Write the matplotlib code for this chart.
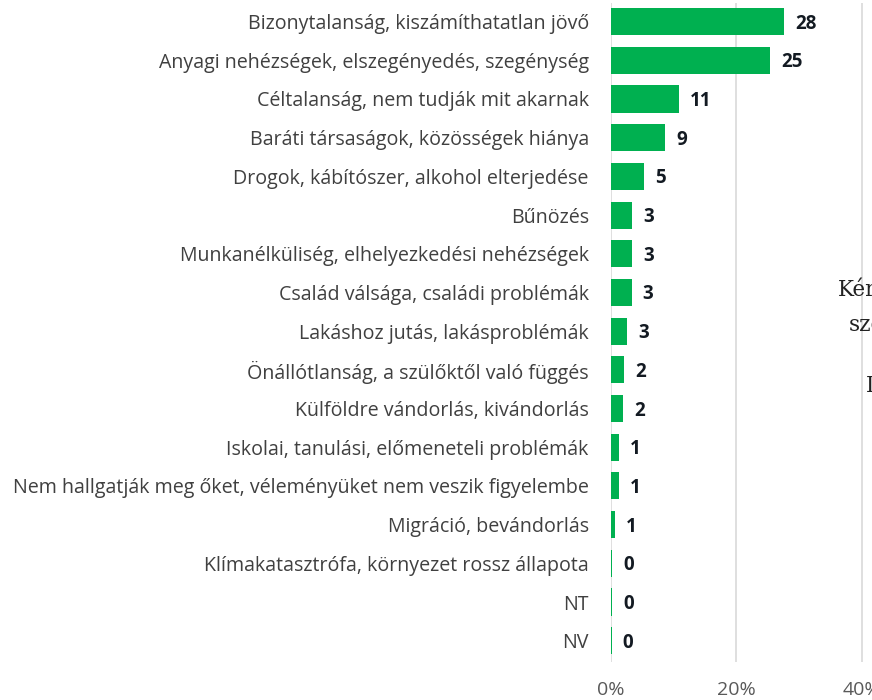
import matplotlib
matplotlib.use('Agg')
import matplotlib.pyplot as plt

categories = [
    'Bizonytalanság, kiszámíthatatlan jövő',
    'Anyagi nehézségek, elszegényedés, szegénység',
    'Céltalanság, nem tudják mit akarnak',
    'Baráti társaságok, közösségek hiánya',
    'Drogok, kábítószer, alkohol elterjedése',
    'Bűnözés',
    'Munkanélküliség, elhelyezkedési nehézségek',
    'Család válsága, családi problémák',
    'Lakáshoz jutás, lakásproblémák',
    'Önállótlanság, a szülőktől való függés',
    'Külföldre vándorlás, kivándorlás',
    'Iskolai, tanulási, előmeneteli problémák',
    'Nem hallgatják meg őket, véleményüket nem veszik figyelembe',
    'Migráció, bevándorlás',
    'Klímakatasztrófa, környezet rossz állapota',
    'NT',
    'NV',
]
# bar lengths in percent
values = [27.6, 25.4, 10.8, 8.6, 5.3, 3.4, 3.4, 3.3, 2.6, 2.1, 1.9, 1.3, 1.3, 0.6, 0.2, 0.2, 0.1]
# printed labels
labels = [28, 25, 11, 9, 5, 3, 3, 3, 3, 2, 2, 1, 1, 1, 0, 0, 0]
xticks = [0, 20, 40]

green = '#00b050'
grid_col = '#d9d9d9'

plt.rcParams['font.family'] = ['Open Sans', 'DejaVu Sans']

fig = plt.figure(figsize=[8.72, 7], dpi=100)
ax = fig.add_axes([611/872, 38/700, 262/872, 659/700])

pos = list(range(len(categories)))
ax.barh(pos, values, height=0.7, color=green, zorder=3)

for p, v, lab in zip(pos, values, labels):
    ax.annotate(str(lab), (v, p), xytext=(11, -2), textcoords='offset pixels',
                ha='left', va='center', fontsize=13.5, fontweight='bold',
                color='#131a22', zorder=4)

ax.set_xlim(0, 41.8)
ax.set_ylim(16.55, -0.48)
ax.set_yticks(pos)
ax.set_yticklabels(categories, fontsize=14.1, color='#404040')
ax.set_xticks(xticks)
ax.set_xticklabels([str(t) + '%' for t in xticks], fontsize=14, color='#595959')
ax.tick_params(axis='y', length=0, pad=16)
ax.tick_params(axis='x', length=0, pad=14)
ax.grid(axis='x', color=grid_col, linewidth=1.2, zorder=0)
for s in ax.spines.values():
    s.set_visible(False)

# title block on the right, mostly cut off by the figure edge
fig.text(838/872, 1 - 290/700, 'Kérdés', fontsize=15.5, family='DejaVu Serif',
         color='#222222', ha='left', va='center')
fig.text(849/872, 1 - 325/700, 'szerint', fontsize=15.5, family='DejaVu Serif',
         color='#222222', ha='left', va='center')
fig.text(866/872, 1 - 386/700, 'I', fontsize=15.5, family='DejaVu Serif',
         color='#222222', ha='left', va='center')

fig.savefig('out.png', dpi=100)
